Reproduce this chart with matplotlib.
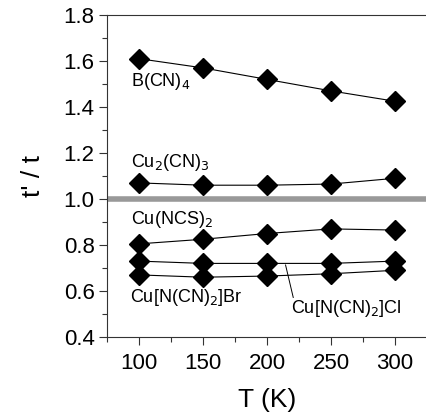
import matplotlib.pyplot as plt
from matplotlib.ticker import MultipleLocator

plt.rcParams['font.family'] = ['Liberation Sans', 'DejaVu Sans']

# temperature (K)
T = [100, 150, 200, 250, 300]

# t'/t for each salt
b_cn4 = [1.61, 1.57, 1.52, 1.47, 1.425]
cu2_cn3 = [1.07, 1.06, 1.06, 1.065, 1.09]
cu_ncs2 = [0.805, 0.825, 0.85, 0.87, 0.865]
cu_cl = [0.73, 0.72, 0.72, 0.72, 0.73]
cu_br = [0.67, 0.66, 0.665, 0.675, 0.69]

series = [b_cn4, cu2_cn3, cu_ncs2, cu_cl, cu_br]

fig = plt.figure(figsize=(4.27, 4.2), dpi=100)
ax = fig.add_axes([0.2506, 0.1976, 0.7494, 0.7667])

ax.axhline(1.0, color='#999999', lw=4, zorder=1)

for s in series:
    ax.plot(T, s, color='black', lw=0.8, marker='D', markersize=10,
            markerfacecolor='black', markeredgecolor='black', zorder=3)

ax.text(93.5, 1.513, r'B(CN)$_4$', fontsize=13, va='center', ha='left')
ax.text(93.5, 1.157, r'Cu$_2$(CN)$_3$', fontsize=13, va='center', ha='left')
ax.text(93.5, 0.909, r'Cu(NCS)$_2$', fontsize=13, va='center', ha='left')
ax.text(93, 0.57, r'Cu[N(CN)$_2$]Br', fontsize=13, va='center', ha='left')
ax.text(218.5, 0.526, r'Cu[N(CN)$_2$]Cl', fontsize=13, va='center', ha='left')
ax.plot([214.5, 220.5], [0.713, 0.572], color='black', lw=0.7)

ax.set_xlim(75, 325)
ax.set_ylim(0.4, 1.8)
ax.xaxis.set_major_locator(MultipleLocator(50))
ax.xaxis.set_minor_locator(MultipleLocator(25))
ax.yaxis.set_major_locator(MultipleLocator(0.2))
ax.yaxis.set_minor_locator(MultipleLocator(0.1))
ax.yaxis.set_major_formatter(plt.FormatStrFormatter('%.1f'))

ax.tick_params(which='both', direction='out', labelsize=16, color='#333333')
ax.tick_params(which='major', length=5.5, width=0.8)
ax.tick_params(which='minor', length=3.5, width=0.8)
ax.tick_params(axis='x', which='major', pad=6)
ax.spines['right'].set_visible(False)
for sp in ['left', 'bottom', 'top']:
    ax.spines[sp].set_color('#333333')
    ax.spines[sp].set_linewidth(0.8)

ax.set_xlabel('T (K)', fontsize=19, labelpad=10)
ax.set_ylabel("t' / t", fontsize=19, labelpad=13)

fig.savefig('out.png', dpi=100)
